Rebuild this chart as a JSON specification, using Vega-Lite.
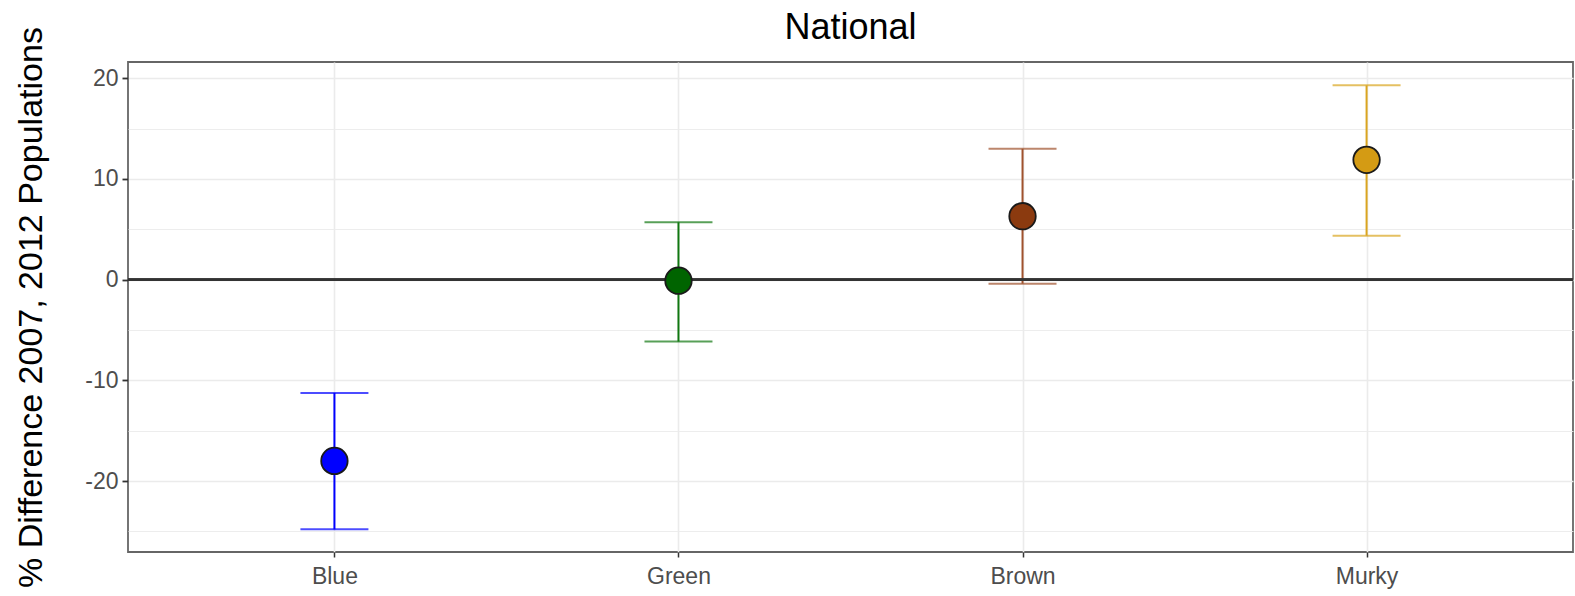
{
  "$schema": "https://vega.github.io/schema/vega-lite/v6.json",
  "width": 1445,
  "height": 490,
  "autosize": "none",
  "padding": {"left": 128, "top": 62, "right": 2, "bottom": 44},
  "background": "white",
  "title": {"text": "National", "fontSize": 36, "font": "Liberation Sans", "fontWeight": "normal", "color": "#000000", "anchor": "middle", "offset": -20},
  "config": {
    "view": {"stroke": "#666666", "strokeWidth": 1.8},
    "font": "Liberation Sans"
  },
  "data": {
    "values": [
      {"type": "Blue", "value": -18.0, "lower": -24.8, "upper": -11.25},
      {"type": "Green", "value": -0.1, "lower": -6.15, "upper": 5.7},
      {"type": "Brown", "value": 6.3, "lower": -0.4, "upper": 13.0},
      {"type": "Murky", "value": 11.9, "lower": 4.37, "upper": 19.3}
    ]
  },
  "layer": [
    {
      "mark": {"type": "rule", "strokeWidth": 2},
      "encoding": {
        "x": {
          "field": "type", "type": "nominal",
          "sort": ["Blue", "Green", "Brown", "Murky"],
          "scale": {"type": "point", "padding": 0.6},
          "axis": {"title": null, "labelAngle": 0, "labelFontSize": 23, "labelColor": "#4d4d4d", "labelPadding": 8, "tickColor": "#333333", "tickSize": 5, "tickWidth": 1.5, "domain": false, "grid": true, "gridColor": "#ebebeb", "gridWidth": 1.6}
        },
        "y": {
          "field": "lower", "type": "quantitative",
          "scale": {"domain": [-27.05, 21.62], "nice": false, "zero": false},
          "axis": {
            "title": "% Difference 2007, 2012 Populations",
            "titleFontSize": 34, "titleFontWeight": "normal", "titleColor": "#000000", "titlePadding": 36,
            "values": [-25, -20, -15, -10, -5, 0, 5, 10, 15, 20],
            "labelExpr": "datum.value % 10 === 0 ? '' + datum.value : ''",
            "labelFontSize": 23, "labelColor": "#4d4d4d", "labelPadding": 4,
            "tickColor": "#333333", "tickSize": 6, "tickWidth": 1.8,
            "tickOpacity": {"condition": {"test": "datum.value % 10 === 0", "value": 1}, "value": 0},
            "domain": false,
            "grid": true, "gridColor": "#ebebeb",
            "gridWidth": {"condition": {"test": "datum.value % 10 === 0", "value": 1.6}, "value": 0.9}
          }
        },
        "y2": {"field": "upper"},
        "color": {
          "field": "type", "type": "nominal", "legend": null,
          "scale": {"domain": ["Blue", "Green", "Brown", "Murky"], "range": ["#0000ff", "#117711", "#a0522d", "#daa520"]}
        }
      }
    },
    {
      "mark": {"type": "rule", "color": "#333333", "strokeWidth": 2.2},
      "encoding": {"y": {"datum": 0, "type": "quantitative"}}
    },
    {
      "mark": {"type": "tick", "size": 68, "thickness": 2},
      "encoding": {
        "x": {"field": "type", "type": "nominal", "sort": ["Blue", "Green", "Brown", "Murky"]},
        "y": {"field": "lower", "type": "quantitative"},
        "color": {"field": "type", "type": "nominal", "legend": null}
      }
    },
    {
      "mark": {"type": "tick", "size": 68, "thickness": 2},
      "encoding": {
        "x": {"field": "type", "type": "nominal", "sort": ["Blue", "Green", "Brown", "Murky"]},
        "y": {"field": "upper", "type": "quantitative"},
        "color": {"field": "type", "type": "nominal", "legend": null}
      }
    },
    {
      "mark": {"type": "point", "filled": true, "shape": "circle", "size": 700, "stroke": "#1a1a1a", "strokeWidth": 1.8, "opacity": 1},
      "encoding": {
        "x": {"field": "type", "type": "nominal", "sort": ["Blue", "Green", "Brown", "Murky"]},
        "y": {"field": "value", "type": "quantitative"},
        "fill": {
          "field": "type", "type": "nominal", "legend": null,
          "scale": {"domain": ["Blue", "Green", "Brown", "Murky"], "range": ["#0000ff", "#006400", "#8b3a0f", "#d49b14"]}
        }
      }
    }
  ]
}
